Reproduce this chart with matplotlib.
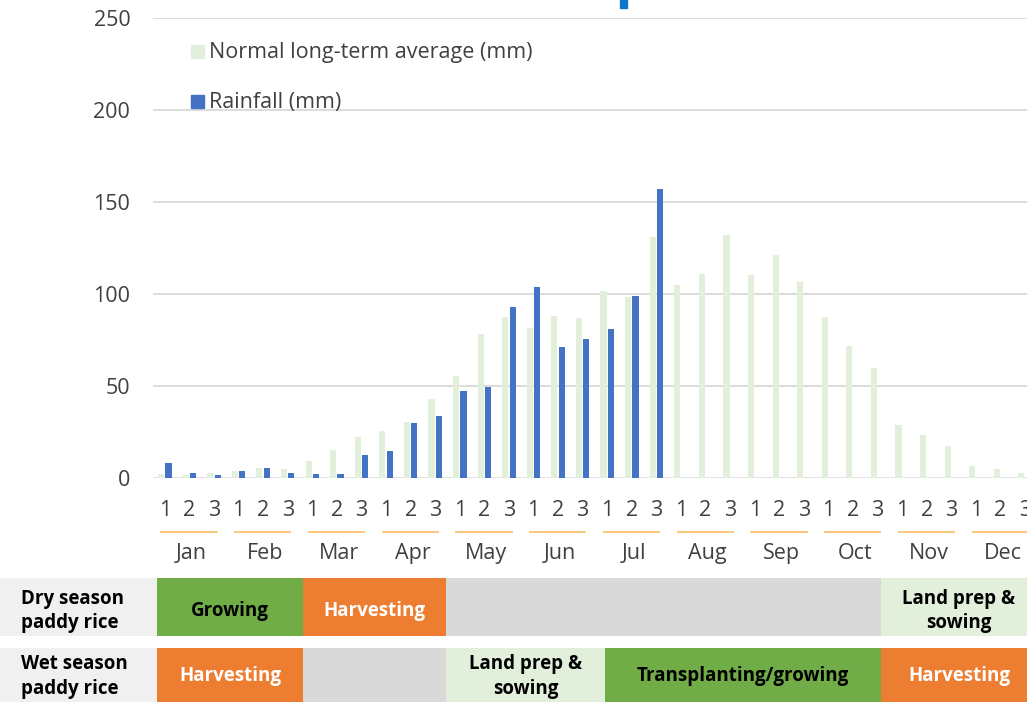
import numpy as np
import matplotlib
matplotlib.use("Agg")
import matplotlib.pyplot as plt
from matplotlib.patches import Rectangle
from matplotlib.transforms import blended_transform_factory

plt.rcParams['font.family'] = ['Open Sans', 'DejaVu Sans']

# ---------------- data ----------------
months = ['Jan', 'Feb', 'Mar', 'Apr', 'May', 'Jun',
          'Jul', 'Aug', 'Sep', 'Oct', 'Nov', 'Dec']
dekads = ['1', '2', '3']
normal_label = 'Normal long-term average (mm)'
rain_label = 'Rainfall (mm)'
normal = [2, 1.5, 2.5, 3.8, 5.3, 4.9, 9.4, 15.4, 22.5, 25.5, 30.6, 43,
          55.5, 78, 87.3, 81.5, 88, 87, 101.4, 98.6, 131,
          104.7, 110.7, 131.9, 110.1, 121.2, 106.5, 87.5, 71.6, 59.8,
          28.8, 23.2, 17.2, 6.7, 4.7, 2.9]
rainfall = [8, 2.5, 1.5, 4, 5.6, 2.7, 2, 2, 12.5, 14.5, 29.7, 33.9,
            47.3, 49.6, 93.1, 103.6, 71, 75.7, 81.2, 98.9, 157.2] + [None] * 15
yticks = [0, 50, 100, 150, 200, 250]

crops = ['Dry season\npaddy rice', 'Wet season\npaddy rice']
dry_stages = [('Growing', 0, 2), ('Harvesting', 2, 4), ('', 4, 10),
              ('Land prep &\nsowing', 10, 12)]
wet_stages = [('Harvesting', 0, 2), ('', 2, 4), ('Land prep &\nsowing', 4, 6),
              ('Transplanting/growing', 6, 10), ('Harvesting', 10, 12)]

# ---------------- style / layout ----------------
W, H = 1027, 702
C_NORMAL = '#e2efda'
C_RAIN = '#4472c4'
C_GRID = '#d9d9d9'
C_TEXT = '#404040'
stage_style = {
    'Growing': ('#70ad47', 'black'),
    'Harvesting': ('#ed7d31', 'white'),
    '': ('#d9d9d9', 'black'),
    'Land prep &\nsowing': ('#e2efda', 'black'),
    'Transplanting/growing': ('#70ad47', 'black'),
}
month_edge_px = {0: 157, 2: 303, 4: 446, 6: 605, 10: 881, 12: 1037}
row_px = [(578, 636), (648, 703)]
row_text_dy = [4, 1]
FS = 15.5
TFS = 13.5

fig = plt.figure(figsize=(W / 100, H / 100), dpi=100)
ax_left, ax_right = 152.5, 1037.4
ax_top, ax_bot = 18, 478
ax = fig.add_axes([ax_left / W, 1 - ax_bot / H, (ax_right - ax_left) / W, (ax_bot - ax_top) / H])

n = len(normal)
x = np.arange(n)
rain = np.array([np.nan if v is None else v for v in rainfall], dtype=float)
bw = 0.25
ax.bar(x - 0.15, normal, width=bw, color=C_NORMAL, zorder=3)
ax.bar(x + 0.15, rain, width=bw, color=C_RAIN, zorder=3)

ax.set_xlim(-0.5, n - 0.5)
ax.set_ylim(0, 250)
ax.set_yticks(yticks)
ax.set_yticklabels([str(t) for t in yticks], fontsize=FS, color=C_TEXT)
ax.tick_params(axis='y', length=0, pad=16)
ax.set_xticks([])
for t in yticks:
    ax.axhline(t, color=C_GRID, lw=1.3 if t else 1.8, zorder=1)
for s in ax.spines.values():
    s.set_visible(False)

# dekad and month labels
tr = blended_transform_factory(ax.transData, fig.transFigure)
for i in range(n):
    ax.text(i, 1 - 516 / H, dekads[i % 3], transform=tr, ha='center', va='baseline',
            fontsize=FS, color=C_TEXT, clip_on=False)
for m, name in enumerate(months):
    i0 = 3 * m
    ax.plot([i0 - 0.18, i0 + 2.15], [1 - 532 / H] * 2, transform=tr, color='#f9bf66',
            lw=1.2, clip_on=False, solid_capstyle='butt')
    ax.text(i0 + 1.08, 1 - 559 / H, name, transform=tr, ha='center', va='baseline',
            fontsize=FS, color=C_TEXT, clip_on=False)

# overlay in pixel coordinates for legend & table
ov = fig.add_axes([0, 0, 1, 1])
ov.set_xlim(0, W)
ov.set_ylim(H, 0)
ov.axis('off')
ov.patch.set_alpha(0)

# legend
for (lab, col, yb) in [(normal_label, C_NORMAL, 58), (rain_label, C_RAIN, 108)]:
    ov.add_patch(Rectangle((191, yb - 13), 13, 13, color=col))
    ov.text(209, yb, lab, fontsize=FS, color=C_TEXT, va='baseline', ha='left')

# fragment of title at top
ov.add_patch(Rectangle((620, 0), 7, 8, color='#0b78c9'))

# crop calendar table
for r, (crop, stages) in enumerate(zip(crops, [dry_stages, wet_stages])):
    y0, y1 = row_px[r]
    yc = (y0 + y1) / 2 + row_text_dy[r]
    ov.add_patch(Rectangle((0, y0), month_edge_px[0], y1 - y0, color='#f0f0f0', lw=0))
    ov.text(21, yc, crop, fontsize=TFS, fontweight='bold', color='black',
            ha='left', va='center', linespacing=1.28)
    for name, m0, m1 in stages:
        xa, xb = month_edge_px[m0], month_edge_px[m1]
        fc, tc = stage_style[name]
        ov.add_patch(Rectangle((xa, y0), xb - xa, y1 - y0, color=fc, lw=0))
        if name:
            xc = (xa + xb) / 2
            ov.text(xc, yc, name, fontsize=TFS, fontweight='bold', color=tc,
                    ha='center', va='center', linespacing=1.28, multialignment='center')

fig.savefig('out.png', dpi=100)
